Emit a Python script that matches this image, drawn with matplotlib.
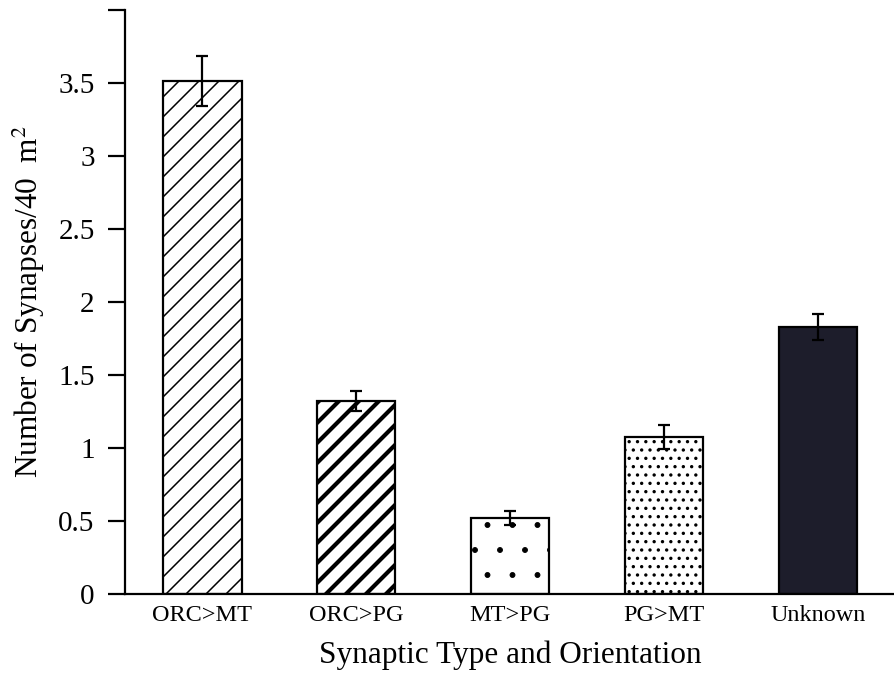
import numpy as np
import matplotlib
matplotlib.use("Agg")
import matplotlib.pyplot as plt
import matplotlib.hatch as mhatch

plt.rcParams['font.family'] = ['Liberation Serif', 'DejaVu Serif']
plt.rcParams['mathtext.fontset'] = 'stix'

categories = ["ORC>MT", "ORC>PG", "MT>PG", "PG>MT", "Unknown"]
means = [3.51, 1.32, 0.52, 1.075, 1.83]
errors = [0.17, 0.07, 0.05, 0.08, 0.09]
hatches = ["/", "/", ".", "..", ""]
hatch_widths = [1.1, 3.0, 0.6, 1.2, 1.0]
colors = ["white", "white", "white", "white", "#1d1d2b"]

# the scanned figure uses a tighter line hatch and looser dots than the defaults
# (even counts keep the hatch tile seamless)
_orig_get_path = mhatch.get_path
hatch_density = {"/": 10, ".": 4, "..": 6}


def get_path(pattern, density=6):
    return _orig_get_path(pattern, hatch_density.get(pattern, density))


mhatch.get_path = get_path

fig = plt.figure(figsize=(8.95, 6.9), dpi=100)
ax = fig.add_axes([0.14, 0.139, 0.86, 0.847])

x = np.arange(len(categories))
for i in range(len(categories)):
    with plt.rc_context({'hatch.linewidth': hatch_widths[i]}):
        b = ax.bar(x[i], means[i], width=0.51, color=colors[i], edgecolor="black",
                   linewidth=1.6, hatch=hatches[i], zorder=2)
        for p in b:
            if hasattr(p, "set_hatch_linewidth"):
                p.set_hatch_linewidth(hatch_widths[i])

ax.errorbar(x, means, yerr=errors, fmt="none", ecolor="black", elinewidth=1.6,
            capsize=4.5, capthick=1.6, zorder=3)

ax.set_xlim(-0.5, 4.5)
ax.set_ylim(0, 4.0)
ax.set_yticks([0, 0.5, 1, 1.5, 2, 2.5, 3, 3.5, 4])
ax.set_yticklabels(["0", "0.5", "1", "1.5", "2", "2.5", "3", "3.5", ""])
ax.set_xticks(x)
ax.set_xticklabels(categories, fontsize=17.5)

ax.spines["top"].set_visible(False)
ax.spines["right"].set_visible(False)
ax.spines["left"].set_linewidth(1.6)
ax.spines["bottom"].set_linewidth(1.6)
ax.tick_params(axis="y", direction="out", length=12, width=1.6, labelsize=21, pad=10)
ax.tick_params(axis="x", length=0, pad=8)

ax.set_ylabel("Number of Synapses/40  m$^2$", fontsize=22.5, labelpad=8)
ax.set_xlabel("Synaptic Type and Orientation", fontsize=22.5, labelpad=10)

fig.savefig("out.png", dpi=100)
